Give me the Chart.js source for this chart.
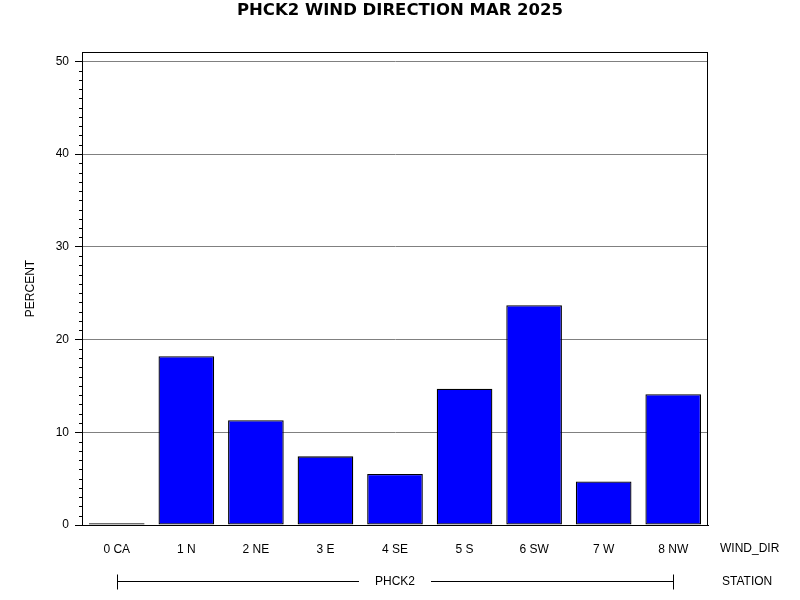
<!DOCTYPE html>
<html>
<head>
<meta charset="utf-8">
<script src="https://cdn.jsdelivr.net/npm/chart.js@4"></script>
<style>
  body { margin: 0; background: #fff; }
  #wrap { width: 800px; height: 600px; }
</style>
</head>
<body>
<div id="wrap"><canvas id="bar-chart" width="800" height="600"></canvas></div>
<script>
// wind direction categories and percent of observations
const windDirs = ["0 CA", "1 N", "2 NE", "3 E", "4 SE", "5 S", "6 SW", "7 W", "8 NW"];
const percent = [0.2, 18.2, 11.3, 7.4, 5.5, 14.7, 23.7, 4.7, 14.1];
const yTicks = [0, 10, 20, 30, 40, 50];
const station = "PHCK2";
const chartTitle = "PHCK2 WIND DIRECTION MAR 2025";

const FONT = "'Liberation Sans', Arial, sans-serif";

// title, frame, minor ticks and the bottom group labels
const extras = {
  id: 'extras',
  afterDraw(chart) {
    const ctx = chart.ctx;
    const a = chart.chartArea;
    const x = chart.scales.x, y = chart.scales.y;
    ctx.save();
    ctx.fillStyle = '#000';
    ctx.font = "bold 16.5px 'DejaVu Sans', sans-serif";
    ctx.textAlign = 'center';
    ctx.textBaseline = 'middle';
    ctx.fillText(chartTitle, 400, 11);

    ctx.strokeStyle = '#000';
    ctx.lineWidth = 1;
    ctx.strokeRect(a.left + 0.5, a.top + 0.5, a.right - a.left - 1, a.bottom - a.top);

    // minor ticks every 1 percent
    ctx.beginPath();
    for (let v = 1; v <= 50; v++) {
      if (v % 10 === 0) continue;
      const py = Math.round(y.getPixelForValue(v)) + 0.5;
      ctx.moveTo(a.left - 3, py);
      ctx.lineTo(a.left, py);
    }
    ctx.stroke();

    ctx.font = '12px ' + FONT;
    ctx.textAlign = 'left';
    ctx.fillText('WIND_DIR', 720, 549);
    ctx.fillText('STATION', 722, 582);

    // station bracket
    const x0 = Math.round(x.getPixelForValue(0)) + 0.5;
    const x1 = Math.round(x.getPixelForValue(windDirs.length - 1)) + 0.5;
    const mid = (a.left + a.right) / 2;
    const ly = 581.5;
    ctx.textAlign = 'center';
    ctx.fillText(station, mid, 582);
    const half = ctx.measureText(station).width / 2 + 16;
    ctx.beginPath();
    ctx.moveTo(x0, ly); ctx.lineTo(mid - half, ly);
    ctx.moveTo(mid + half, ly); ctx.lineTo(x1, ly);
    ctx.moveTo(x0, ly - 7); ctx.lineTo(x0, ly + 8);
    ctx.moveTo(x1, ly - 7); ctx.lineTo(x1, ly + 8);
    ctx.stroke();
    ctx.restore();
  }
};

new Chart(document.getElementById("bar-chart"), {
  type: 'bar',
  data: {
    labels: windDirs,
    datasets: [{
      data: percent,
      backgroundColor: '#0000ff',
      borderColor: '#000',
      borderWidth: 1.3,
      borderSkipped: false,
      barPercentage: 0.8,
      categoryPercentage: 1
    }]
  },
  options: {
    responsive: false,
    animation: false,
    layout: { padding: { left: 0, right: 92, top: 52, bottom: 0 } },
    plugins: {
      legend: { display: false },
      tooltip: { enabled: false },
      title: { display: false }
    },
    scales: {
      x: {
        grid: { display: false, drawTicks: false },
        border: { display: true, color: '#000' },
        ticks: { color: '#000', padding: 17, font: { family: FONT, size: 12 } },
        afterFit(scale) { scale.height = 75; }
      },
      y: {
        min: 0,
        max: 51,
        afterBuildTicks(scale) { scale.ticks = yTicks.map(v => ({ value: v })); },
        grid: {
          color: ctx => (ctx.tick && ctx.tick.value > 0) ? '#808080' : 'rgba(0,0,0,0)',
          tickColor: '#000',
          tickLength: 7
        },
        border: { display: true, color: '#000' },
        ticks: { color: '#000', padding: 6, font: { family: FONT, size: 12 } },
        title: {
          display: true,
          text: 'PERCENT',
          color: '#000',
          font: { family: FONT, size: 12 },
          padding: { top: 23, bottom: 0 }
        },
        afterFit(scale) { scale.width = 82; }
      }
    }
  },
  plugins: [extras]
});
</script>
</body>
</html>
